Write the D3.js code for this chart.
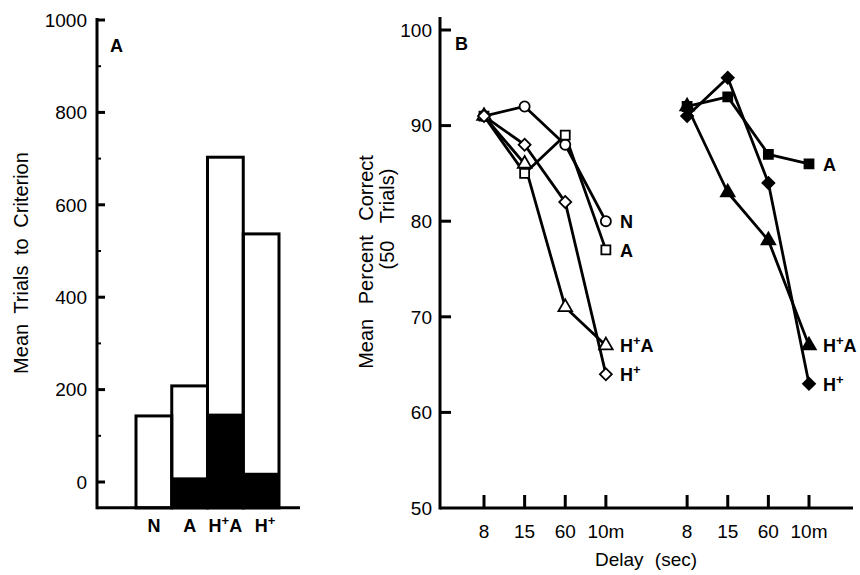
<!DOCTYPE html>
<meta charset="utf-8">
<html>
<head>
<style>
body { margin: 0; background: #fff; }
text { font-family: "Liberation Sans", Arial, sans-serif; fill: #000; }
.tick-label { font-size: 19px; }
.bold { font-weight: bold; }
</style>
<script src="https://d3js.org/d3.v7.min.js"></script>
</head>
<body>
<svg width="860" height="575"></svg>
<script>
// ---- panel A data ----
var groups = ["N", "A", "H+A", "H+"];
var totalTrials = [143, 208, 703, 537];
var blackTrials = [null, 10, 148, 20];
var yTicksA = [0, 200, 400, 600, 800, 1000];
var yMinorA = [100, 300, 500, 700, 900];

// ---- panel B data ----
var delayTicks = ["8", "15", "60", "10m", "8", "15", "60", "10m"];
var delayIndex = [0, 1, 2, 3, 5, 6, 7, 8];
var leftIdx = [0, 1, 2, 3];
var rightIdx = [5, 6, 7, 8];
var openN = [91, 92, 88, 80];
var openA = [91, 85, 89, 77];
var openHA = [91, 86, 71, 67];
var openH = [91, 88, 82, 64];
var fillA = [92, 93, 87, 86];
var fillHA = [92, 83, 78, 67];
var fillH = [91, 95, 84, 63];
var yTicksB = [50, 60, 70, 80, 90, 100];

var svg = d3.select("svg");

// label with superscript "+"
function groupLabel(sel, name) {
  var parts = name.split("+");
  sel.append("tspan").text(parts[0]);
  if (name.indexOf("+") >= 0) {
    sel.append("tspan").attr("dy", -7).style("font-size", "13px").text("+");
    if (parts[1]) sel.append("tspan").attr("dy", 7).text(parts[1]);
  }
}

// ================= Panel A =================
var yA = d3.scaleLinear().domain([0, 1000]).range([482, 20]);
var baseA = yA(-56);
var xA = d3.scaleBand().domain(groups).range([136, 279]).padding(0);
var gA = svg.append("g");

var bars = gA.selectAll(".bar").data(groups).enter().append("g");
bars.filter(function(d, i) { return blackTrials[i] != null; })
  .append("rect")
    .attr("x", function(d) { return xA(d); })
    .attr("width", xA.bandwidth())
    .attr("y", function(d) { return yA(blackTrials[groups.indexOf(d)]); })
    .attr("height", function(d) { return baseA - yA(blackTrials[groups.indexOf(d)]); })
    .attr("fill", "#000");
bars.append("rect")
    .attr("x", function(d) { return xA(d); })
    .attr("width", xA.bandwidth())
    .attr("y", function(d, i) { return yA(totalTrials[i]); })
    .attr("height", function(d, i) { return baseA - yA(totalTrials[i]); })
    .attr("fill", "none")
    .attr("stroke", "#000")
    .attr("stroke-width", 3);

// axes
gA.append("line").attr("x1", 97).attr("x2", 97).attr("y1", 18).attr("y2", baseA + 1.5)
  .attr("stroke", "#000").attr("stroke-width", 3);
gA.append("line").attr("x1", 97).attr("x2", 300).attr("y1", baseA).attr("y2", baseA)
  .attr("stroke", "#000").attr("stroke-width", 3);
gA.selectAll(".tk").data(yTicksA).enter().append("line")
  .attr("x1", 97).attr("x2", 105)
  .attr("y1", function(d) { return yA(d); }).attr("y2", function(d) { return yA(d); })
  .attr("stroke", "#000").attr("stroke-width", 3);
gA.selectAll(".mtk").data(yMinorA).enter().append("line")
  .attr("x1", 97).attr("x2", 101)
  .attr("y1", function(d) { return yA(d); }).attr("y2", function(d) { return yA(d); })
  .attr("stroke", "#000").attr("stroke-width", 2);
gA.selectAll(".tl").data(yTicksA).enter().append("text")
  .attr("class", "tick-label")
  .attr("x", 87).attr("y", function(d) { return yA(d); })
  .attr("dy", "0.36em").attr("text-anchor", "end")
  .text(function(d) { return d; });

gA.selectAll(".cl").data(groups).enter().append("text")
  .attr("class", "bold").style("font-size", "18px")
  .attr("x", function(d) { return xA(d) + xA.bandwidth() / 2 + (d == "H+" ? 4 : 0); })
  .attr("y", 532).attr("text-anchor", "middle")
  .each(function(d) { groupLabel(d3.select(this), d); });

gA.append("text").attr("class", "bold").style("font-size", "18px")
  .attr("x", 110).attr("y", 52).text("A");

gA.append("text").style("font-size", "20px").style("word-spacing", "5px")
  .attr("transform", "translate(28,263) rotate(-90)")
  .attr("text-anchor", "middle").text("Mean Trials to Criterion");

// ================= Panel B =================
var yB = d3.scaleLinear().domain([50, 100]).range([508, 30]);
var xB = d3.scaleLinear().domain([0, 8]).range([484, 809]);
var gB = svg.append("g");

gB.append("line").attr("x1", 440).attr("x2", 440).attr("y1", 17).attr("y2", 509.5)
  .attr("stroke", "#000").attr("stroke-width", 3);
gB.append("line").attr("x1", 440).attr("x2", 853).attr("y1", 508).attr("y2", 508)
  .attr("stroke", "#000").attr("stroke-width", 3);
gB.selectAll(".tk").data(yTicksB.slice(1)).enter().append("line")
  .attr("x1", 440).attr("x2", 451)
  .attr("y1", function(d) { return yB(d); }).attr("y2", function(d) { return yB(d); })
  .attr("stroke", "#000").attr("stroke-width", 3);
gB.selectAll(".tl").data(yTicksB).enter().append("text")
  .attr("class", "tick-label")
  .attr("x", 432).attr("y", function(d) { return yB(d); })
  .attr("dy", "0.36em").attr("text-anchor", "end")
  .text(function(d) { return d; });
gB.selectAll(".xtk").data(delayIndex).enter().append("line")
  .attr("x1", function(d) { return xB(d); }).attr("x2", function(d) { return xB(d); })
  .attr("y1", 508).attr("y2", 495)
  .attr("stroke", "#000").attr("stroke-width", 3);
gB.selectAll(".xtl").data(delayIndex).enter().append("text")
  .attr("class", "tick-label")
  .attr("x", function(d) { return xB(d); }).attr("y", 538)
  .attr("text-anchor", "middle")
  .text(function(d, i) { return delayTicks[i]; });

gB.append("text").style("font-size", "19px").style("word-spacing", "6px")
  .attr("x", 646).attr("y", 566).attr("text-anchor", "middle").text("Delay (sec)");
gB.append("text").style("font-size", "20px").style("word-spacing", "9px")
  .attr("transform", "translate(373,262) rotate(-90)")
  .attr("text-anchor", "middle").text("Mean Percent Correct");
gB.append("text").style("font-size", "20px").style("word-spacing", "12px")
  .attr("transform", "translate(394,219) rotate(-90)")
  .attr("text-anchor", "middle").text("(50 Trials)");
gB.append("text").attr("class", "bold").style("font-size", "18px")
  .attr("x", 455).attr("y", 50).text("B");

var circle = d3.symbol().type(d3.symbolCircle).size(80)();
var square = d3.symbol().type(d3.symbolSquare).size(81)();
var triangle = d3.symbol().type(d3.symbolTriangle).size(80)();
var diamond = d3.symbol().type(d3.symbolSquare).size(72)();

var series = [
  {idx: leftIdx, vals: openN, shape: circle, rot: 0, filled: false, label: "N"},
  {idx: leftIdx, vals: openA, shape: square, rot: 0, filled: false, label: "A"},
  {idx: leftIdx, vals: openHA, shape: triangle, rot: 0, filled: false, label: "H+A"},
  {idx: leftIdx, vals: openH, shape: diamond, rot: 45, filled: false, label: "H+"},
  {idx: rightIdx, vals: fillA, shape: square, rot: 0, filled: true, label: "A"},
  {idx: rightIdx, vals: fillHA, shape: triangle, rot: 0, filled: true, label: "H+A"},
  {idx: rightIdx, vals: fillH, shape: diamond, rot: 45, filled: true, label: "H+"}
];

var line = d3.line()
  .x(function(d) { return xB(d[0]); })
  .y(function(d) { return yB(d[1]); });

series.forEach(function(s) {
  var pts = s.idx.map(function(x, i) { return [x, s.vals[i]]; });
  gB.append("path").attr("d", line(pts))
    .attr("fill", "none").attr("stroke", "#000").attr("stroke-width", 2.8)
    .attr("stroke-linejoin", "round");
});
series.forEach(function(s) {
  var pts = s.idx.map(function(x, i) { return [x, s.vals[i]]; });
  gB.selectAll(null).data(pts).enter().append("path")
    .attr("d", s.shape)
    .attr("transform", function(d) { return "translate(" + xB(d[0]) + "," + yB(d[1]) + ") rotate(" + s.rot + ")"; })
    .attr("fill", s.filled ? "#000" : "#fff")
    .attr("stroke", "#000").attr("stroke-width", 1.8);
  var last = pts[pts.length - 1];
  gB.append("text").attr("class", "bold").style("font-size", "18px")
    .attr("x", xB(last[0]) + 14).attr("y", yB(last[1]) + 7)
    .each(function() { groupLabel(d3.select(this), s.label); });
});
</script>
</body>
</html>
